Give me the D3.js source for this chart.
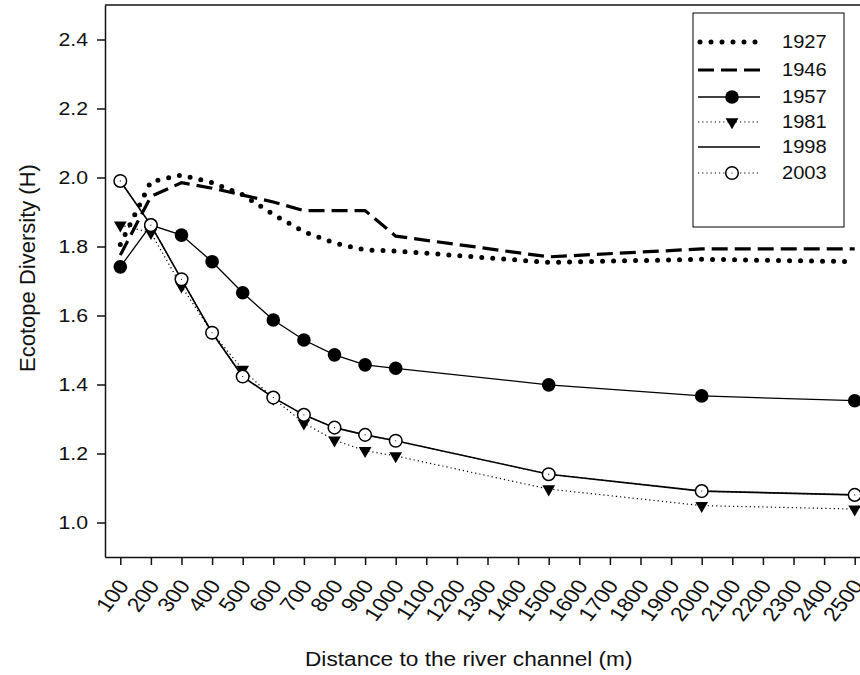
<!DOCTYPE html>
<html lang="en">
<head>
    <meta charset="UTF-8">
    <title>Ecotope Diversity</title>
    <script src="https://d3js.org/d3.v7.js"></script>
    <style>
        body { margin: 0; background: #fff; }
        svg { display: block; font-family: "Liberation Sans", Arial, sans-serif; }
        .axis path, .axis line { stroke: #111; stroke-width: 1.5px; }
        .axis text { fill: #111; }
        .x.axis text { font-size: 20px; }
        .y.axis text { font-size: 18.5px; }
        .title { font-size: 21px; fill: #111; }
        .legend text { font-size: 17.5px; fill: #111; }
    </style>
</head>
<body>
    <svg width="860" height="675"></svg>
    <script>
        const distances = [100, 200, 300, 400, 500, 600, 700, 800, 900, 1000, 1500, 2000, 2500];
        const xTicks = d3.range(100, 2501, 100);
        const yTicks = [1.0, 1.2, 1.4, 1.6, 1.8, 2.0, 2.2, 2.4];

        const h1927 = [1.806, 1.988, 2.007, 1.985, 1.950, 1.893, 1.843, 1.810, 1.790, 1.787, 1.754, 1.763, 1.756];
        const h1946 = [1.775, 1.945, 1.985, 1.969, 1.949, 1.929, 1.904, 1.904, 1.904, 1.830, 1.770, 1.793, 1.793];
        const h1957 = [1.741, 1.862, 1.833, 1.756, 1.666, 1.587, 1.529, 1.486, 1.457, 1.447, 1.399, 1.367, 1.353];
        const h1981 = [1.862, 1.840, 1.685, 1.550, 1.444, 1.360, 1.288, 1.239, 1.208, 1.193, 1.097, 1.049, 1.039];
        const h1998 = [1.990, 1.862, 1.705, 1.550, 1.423, 1.362, 1.312, 1.275, 1.254, 1.237, 1.140, 1.091, 1.080];
        const h2003 = [1.990, 1.862, 1.705, 1.550, 1.423, 1.362, 1.312, 1.275, 1.254, 1.237, 1.140, 1.091, 1.080];

        const series = [
            { name: "1927", values: h1927, width: 5, dash: "0,11", cap: "round", marker: null },
            { name: "1946", values: h1946, width: 3.2, dash: "16,7", cap: "butt", marker: null },
            { name: "1957", values: h1957, width: 1.3, dash: null, cap: "butt", marker: "filled" },
            { name: "1981", values: h1981, width: 1.2, dash: "1.2,3", cap: "butt", marker: "triangle" },
            { name: "1998", values: h1998, width: 1.6, dash: null, cap: "butt", marker: null },
            { name: "2003", values: h2003, width: 1.2, dash: "1.2,3", cap: "butt", marker: "open" }
        ];

        const svg = d3.select("svg");
        const mLeft = 105, mTop = 5, mBottom = 557;
        const stretch = 1.15; // text in the picture is a little wider than tall

        const x = d3.scaleLinear().domain([50, 2550]).range([mLeft, 870]);
        const y = d3.scaleLinear().domain([0.9, 2.5]).range([mBottom, mTop]);

        // frame: top line (right side runs off the picture)
        svg.append("line")
            .attr("x1", mLeft).attr("x2", 870)
            .attr("y1", mTop).attr("y2", mTop)
            .attr("stroke", "#111").attr("stroke-width", 1.5);

        const xAxis = svg.append("g").attr("class", "x axis")
            .attr("transform", `translate(0,${mBottom})`)
            .call(d3.axisBottom(x).tickValues(xTicks).tickSize(8).tickSizeOuter(0).tickFormat(d3.format("d")));
        xAxis.selectAll("text")
            .attr("text-anchor", "end")
            .attr("transform", `translate(9,29) scale(${stretch},1) rotate(-55)`)
            .attr("dy", 0)
            .attr("y", 0).attr("x", 0);

        svg.append("g").attr("class", "y axis")
            .attr("transform", `translate(${mLeft},0)`)
            .call(d3.axisLeft(y).tickValues(yTicks).tickSize(8).tickSizeOuter(0).tickFormat(d3.format(".1f")))
            .selectAll("text")
            .attr("x", -17 / stretch)
            .attr("transform", `scale(${stretch},1)`);

        svg.append("text").attr("class", "title")
            .attr("transform", "translate(305,666) scale(1.08,1)")
            .text("Distance to the river channel (m)");

        svg.append("text").attr("class", "title")
            .attr("transform", "translate(35,268) rotate(-90)")
            .attr("text-anchor", "middle")
            .style("font-size", "22px")
            .text("Ecotope Diversity (H)");

        const line = d3.line()
            .x((d, i) => x(distances[i]))
            .y(d => y(d));

        function styleLine(sel, s) {
            sel.attr("fill", "none")
                .attr("stroke", "#000")
                .attr("stroke-width", s.width)
                .attr("stroke-linecap", s.cap)
                .attr("stroke-dasharray", s.dash);
        }

        const tri = d3.symbol().type(d3.symbolTriangle).size(70);

        function drawMarker(g, kind) {
            if (kind === "filled") {
                g.append("circle").attr("r", 6.8).attr("fill", "#000");
            } else if (kind === "open") {
                g.append("circle").attr("r", 6.3).attr("fill", "#fff")
                    .attr("stroke", "#000").attr("stroke-width", 1.5);
                g.append("circle").attr("r", 0.6).attr("fill", "#000");
            } else if (kind === "triangle") {
                g.append("path").attr("d", tri).attr("transform", "rotate(180)").attr("fill", "#000");
            }
        }

        const plot = svg.append("g");
        series.forEach(s => {
            plot.append("path").datum(s.values).attr("d", line).call(styleLine, s);
        });
        series.forEach(s => {
            if (!s.marker) return;
            plot.selectAll(null)
                .data(s.values)
                .enter().append("g")
                .attr("transform", (d, i) => `translate(${x(distances[i])},${y(d)})`)
                .each(function () { drawMarker(d3.select(this), s.marker); });
        });

        // legend
        const legend = svg.append("g").attr("class", "legend");
        legend.append("rect")
            .attr("x", 693).attr("y", 13).attr("width", 151).attr("height", 214)
            .attr("fill", "#fff").attr("stroke", "#000").attr("stroke-width", 1);

        const rows = [42, 70, 97, 122, 147, 173];
        const item = legend.selectAll(".item")
            .data(series)
            .enter().append("g")
            .attr("class", "item")
            .attr("transform", (d, i) => `translate(0,${rows[i]})`);

        item.each(function (s) {
            const g = d3.select(this);
            g.append("line")
                .attr("x1", s.name === "1927" ? 700 : 698).attr("x2", 760)
                .attr("y1", 0).attr("y2", 0)
                .call(styleLine, s);
            const m = g.append("g").attr("transform", "translate(732,0)");
            drawMarker(m, s.marker);
            g.append("text")
                .attr("transform", `translate(782,0) scale(${stretch},1)`)
                .attr("dy", "0.36em").text(s.name);
        });
    </script>
</body>
</html>
